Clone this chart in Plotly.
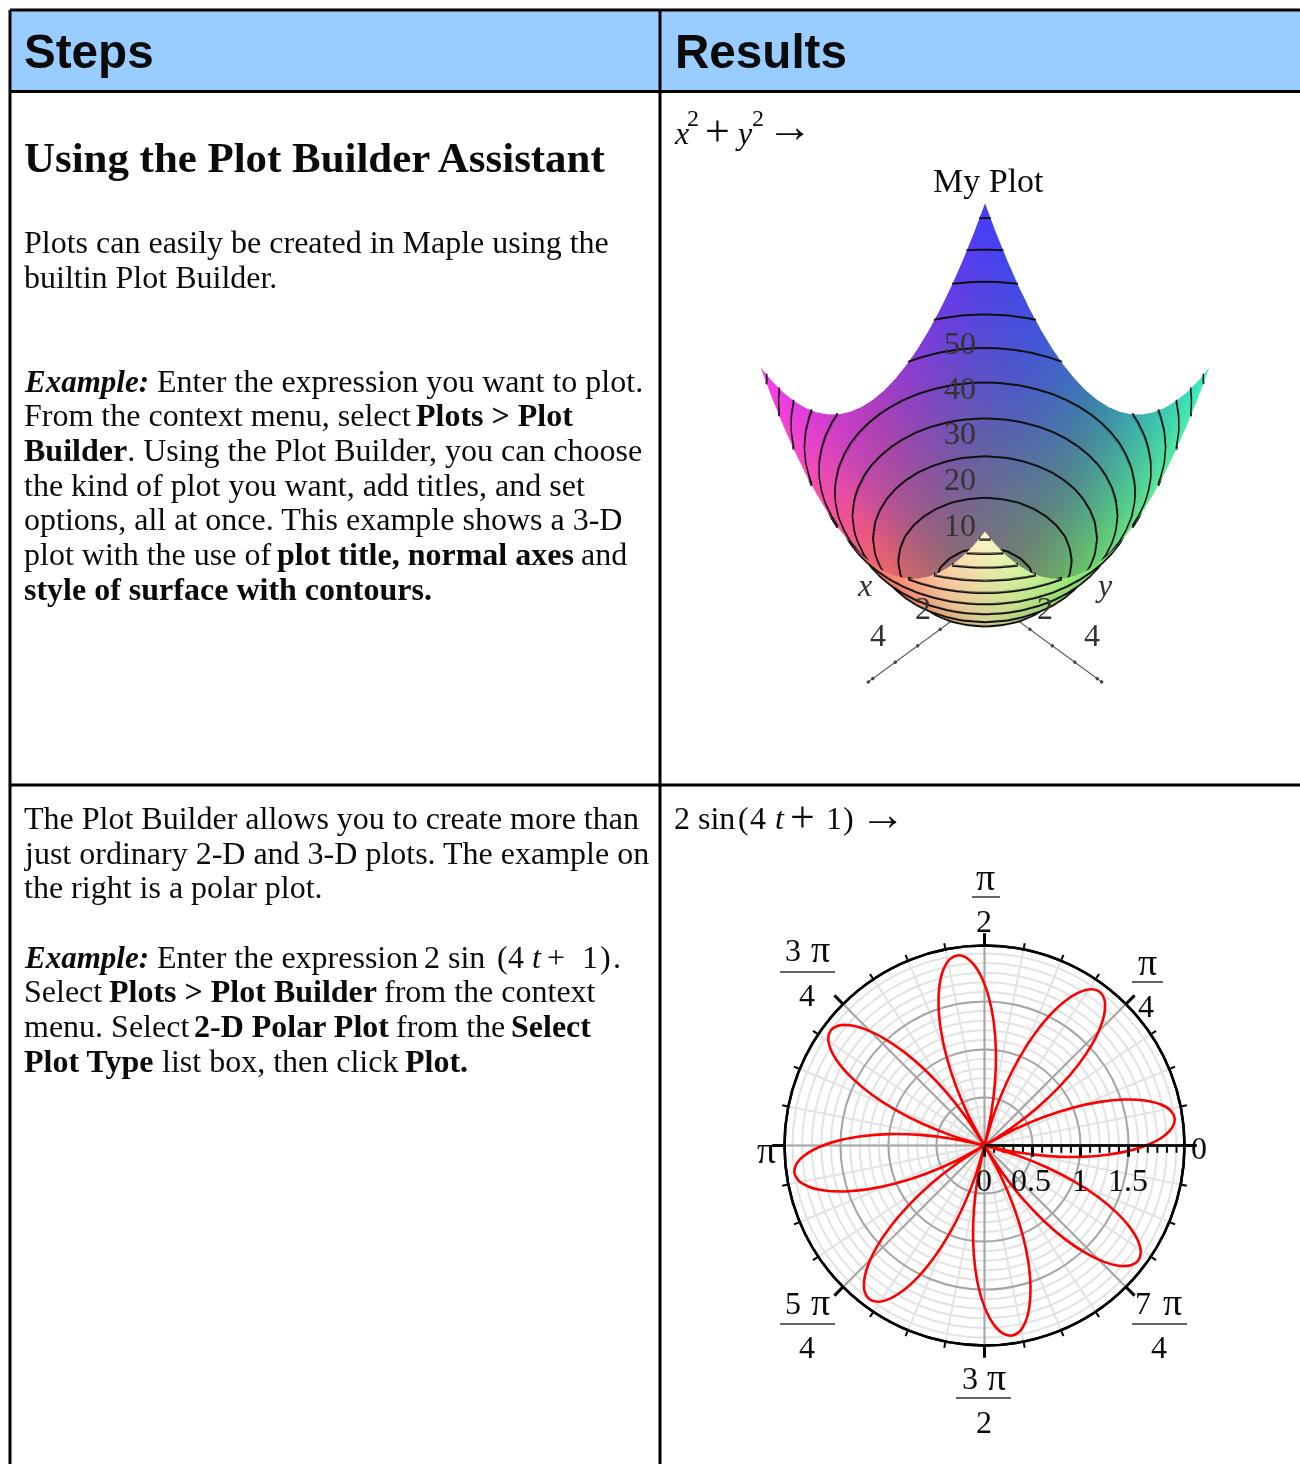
import numpy as np
import plotly.graph_objects as go

PAGE_W, PAGE_H = 1300, 1464
SERIF = "Liberation Serif"
SANS = "Liberation Sans"

def px(x):
    return x / PAGE_W

def py(y):
    return 1 - y / PAGE_H

# ---------- text of the table ----------
HEADERS = [("Steps", 24), ("Results", 675)]
HEADING = "Using the Plot Builder Assistant"
# y, then the pieces of the line with the x where each starts
BODY_LINES = [
    (242, [(24, "Plots can easily be created in Maple using the")]),
    (277, [(24, "builtin Plot Builder.")]),
    (381, [(24, "<b><i>Example:</i></b>"), (157, "Enter the expression you want to plot.")]),
    (415, [(24, "From the context menu, select"), (416, "<b>Plots &gt; Plot</b>")]),
    (450, [(24, "<b>Builder</b>. Using the Plot Builder, you can choose")]),
    (485, [(24, "the kind of plot you want, add titles, and set")]),
    (519, [(24, "options, all at once. This example shows a 3-D")]),
    (554, [(24, "plot with the use of"), (277, "<b>plot title, normal axes</b>"), (581, "and")]),
    (589, [(24, "<b>style of surface with contours.</b>")]),
    (818, [(24, "The Plot Builder allows you to create more than")]),
    (853, [(24, "just ordinary 2-D and 3-D plots. The example on")]),
    (887, [(24, "the right is a polar plot.")]),
    (957, [(24, "<b><i>Example:</i></b>"), (157, "Enter the expression"), (424, "2 sin"), (497, "("), (508, "4"),
           (532, "<i>t</i>"), (547, "+"), (582, "1"), (600, ")"), (613, ".")]),
    (991, [(24, "Select"), (109, "<b>Plots &gt; Plot Builder</b>"), (384, "from the context")]),
    (1026, [(24, "menu. Select"), (194, "<b>2-D Polar Plot</b>"), (396, "from the"), (511, "<b>Select</b>")]),
    (1061, [(24, "<b>Plot Type</b>"), (162, "list box, then click"), (405, "<b>Plot.</b>")]),
]
# pieces of the two result formulas: text, x, y, size
FORMULA_PIECES = [
    ("<i>x</i>", 674, 133, 32), ("2", 687, 118, 24), ("+", 705, 132, 44), ("<i>y</i>", 735, 133, 32),
    ("2", 752, 118, 24), ("\u2192", 767, 127, 46),
    ("2 sin", 674, 818, 32), ("(", 738, 818, 32), ("4", 750, 818, 32), ("<i>t</i>", 775, 818, 32),
    ("+", 790, 817, 44), ("1", 826, 818, 32), (")", 843, 818, 32), ("\u2192", 860, 814, 46),
]

# ---------- 3-D surface: one quadrant of z, mirrored about both axes ----------
GRID = [0, 0.5, 1, 1.5, 2, 2.5, 3, 3.5, 4, 4.5, 5]
Z_QUADRANT = [
    [0, .25, 1, 2.25, 4, 6.25, 9, 12.25, 16, 20.25, 25],
    [.25, .5, 1.25, 2.5, 4.25, 6.5, 9.25, 12.5, 16.25, 20.5, 25.25],
    [1, 1.25, 2, 3.25, 5, 7.25, 10, 13.25, 17, 21.25, 26],
    [2.25, 2.5, 3.25, 4.5, 6.25, 8.5, 11.25, 14.5, 18.25, 22.5, 27.25],
    [4, 4.25, 5, 6.25, 8, 10.25, 13, 16.25, 20, 24.25, 29],
    [6.25, 6.5, 7.25, 8.5, 10.25, 12.5, 15.25, 18.5, 22.25, 26.5, 31.25],
    [9, 9.25, 10, 11.25, 13, 15.25, 18, 21.25, 25, 29.25, 34],
    [12.25, 12.5, 13.25, 14.5, 16.25, 18.5, 21.25, 24.5, 28.25, 32.5, 37.25],
    [16, 16.25, 17, 18.25, 20, 22.25, 25, 28.25, 32, 36.25, 41],
    [20.25, 20.5, 21.25, 22.5, 24.25, 26.5, 29.25, 32.5, 36.25, 40.5, 45.25],
    [25, 25.25, 26, 27.25, 29, 31.25, 34, 37.25, 41, 45.25, 50],
]
CONTOUR_LEVELS = [2.5, 7.5, 12.5, 17.5, 22.5, 27.5, 32.5, 37.5, 42.5, 47.5]
# colours at x = -5, -2.5, 0, 2.5, 5 (rows) and y = -5, -2.5, 0, 2.5, 5 (columns)
SURFACE_COLOURS = [
    [(70, 60, 250), (65, 85, 220), (60, 130, 170), (60, 190, 175), (60, 240, 190)],
    [(120, 60, 220), (100, 100, 160), (100, 135, 120), (95, 195, 115), (100, 235, 150)],
    [(175, 60, 190), (150, 95, 130), (135, 125, 95), (120, 175, 85), (130, 230, 110)],
    [(215, 60, 215), (235, 90, 120), (205, 125, 80), (215, 210, 150), (190, 240, 140)],
    [(250, 60, 240), (250, 80, 170), (250, 110, 100), (250, 185, 150), (255, 250, 200)],
]
AXIS_TICKS_3D = [0, 1, 2, 3, 4, 5, 5.2]
Z_TICK_LABELS = [(50, 343), (40, 388), (30, 433), (20, 479), (10, 525)]
AXIS_3D_LABELS = [("<i>x</i>", 864, 585), ("<i>y</i>", 1104, 585), ("4", 878, 635), ("4", 1092, 635),
                  ("2", 923, 608), ("2", 1045, 608)]

grid = np.array(GRID)
axis = np.concatenate([-grid[:0:-1], grid])
zq = np.array(Z_QUADRANT)
z = np.block([[zq[:0:-1, :0:-1], zq[:0:-1, :]], [zq[:, :0:-1], zq]])
X, Y = np.meshgrid(axis, axis, indexing="ij")
pal = np.array(SURFACE_COLOURS, dtype=float)

def colour_at(x, y):
    u, v = (x + 5) / 2.5, (y + 5) / 2.5
    i, j = min(int(u), 3), min(int(v), 3)
    a, b = u - i, v - j
    c = (pal[i, j] * (1 - a) * (1 - b) + pal[i + 1, j] * a * (1 - b)
         + pal[i, j + 1] * (1 - a) * b + pal[i + 1, j + 1] * a * b)
    return "rgb(%d,%d,%d)" % tuple(c)

n = len(axis)
I, J, K = [], [], []
for a in range(n - 1):
    for b in range(n - 1):
        p = a * n + b
        I += [p, p]
        J += [p + 1, p + n + 1]
        K += [p + n + 1, p + n]

cx, cy, cl = [], [], []
for level in CONTOUR_LEVELS:
    for a in range(n - 1):
        for b in range(n - 1):
            corners = [(a, b), (a + 1, b), (a + 1, b + 1), (a, b + 1)]
            hits = []
            for e in range(4):
                p, q = corners[e], corners[(e + 1) % 4]
                zp, zq_ = z[p], z[q]
                if (zp < level) != (zq_ < level):
                    s = (level - zp) / (zq_ - zp)
                    hits.append((X[p] + s * (X[q] - X[p]), Y[p] + s * (Y[q] - Y[p])))
            for h in range(0, len(hits) - 1, 2):
                cx += [hits[h][0], hits[h + 1][0], None]
                cy += [hits[h][1], hits[h + 1][1], None]
                cl += [level, level, None]

fig = go.Figure()
fig.add_trace(go.Mesh3d(
    x=X.ravel(), y=Y.ravel(), z=z.ravel(), i=I, j=J, k=K,
    vertexcolor=[colour_at(a, b) for a, b in zip(X.ravel(), Y.ravel())],
    lighting=dict(ambient=1, diffuse=0, specular=0, roughness=1, fresnel=0),
    flatshading=False, hoverinfo="skip", showscale=False, scene="scene"))
# one copy just above the surface shows inside the bowl, one just below shows on its outer wall
for lift in (0.2, -0.2):
    fig.add_trace(go.Scatter3d(x=cx, y=cy, z=[None if v is None else v + lift for v in cl], mode="lines",
                               line=dict(color="#101010", width=4),
                               hoverinfo="skip", showlegend=False, scene="scene"))
zeros = [0] * len(AXIS_TICKS_3D)
for xs, ys in ((AXIS_TICKS_3D, zeros), (zeros, AXIS_TICKS_3D)):
    fig.add_trace(go.Scatter3d(x=xs, y=ys, z=zeros, mode="lines+markers",
                               line=dict(color="#444444", width=2),
                               marker=dict(size=2, color="#444444"),
                               hoverinfo="skip", showlegend=False, scene="scene"))

# ---------- polar plot ----------
PETAL_OFFSET = [-22.5, -20, -17.5, -15, -12.5, -10, -7.5, -5, -2.5, 0,
                2.5, 5, 7.5, 10, 12.5, 15, 17.5, 20, 22.5]
PETAL_R = [0, .347, .684, 1.0, 1.286, 1.532, 1.732, 1.879, 1.970, 2.0,
           1.970, 1.879, 1.732, 1.532, 1.286, 1.0, .684, .347, 0]
PETAL_TIPS = [8.2, 53.2, 98.2, 143.2, 188.2, 233.2, 278.2, 323.2]
RADIAL_TICKS = [0, 0.5, 1, 1.5]
# tick label, x, y
RADIAL_TICK_LABELS = [("0", 984, 1180), ("0.5", 1031, 1180), ("1", 1080, 1180), ("1.5", 1128, 1180)]

theta = [tip + o for tip in PETAL_TIPS for o in PETAL_OFFSET]
radius = PETAL_R * len(PETAL_TIPS)

fig.add_trace(go.Scatterpolar(r=[0], theta=[0], mode="lines", subplot="polar",
                              hoverinfo="skip", showlegend=False))
fig.add_trace(go.Scatterpolar(r=radius, theta=theta, mode="lines", subplot="polar2",
                              line=dict(color="#ff0000", width=2.6, shape="spline", smoothing=0.8),
                              hoverinfo="skip", showlegend=False))

pdom = dict(x=[px(784.5), px(1184.5)], y=[py(1345.5), py(945.5)])
R_MAX = 2.083
fig.update_layout(
    width=PAGE_W, height=PAGE_H, margin=dict(l=0, r=0, t=0, b=0),
    paper_bgcolor="white", plot_bgcolor="white", showlegend=False,
    scene=dict(
        domain=dict(x=[px(685), px(1285)], y=[py(782), py(182)]),
        xaxis=dict(visible=False, range=[-5.2, 5.2]),
        yaxis=dict(visible=False, range=[-5.2, 5.2]),
        zaxis=dict(visible=False, range=[0, 50]),
        aspectmode="manual", aspectratio=dict(x=1.1, y=1.1, z=1.12),
        bgcolor="rgba(0,0,0,0)",
        camera=dict(projection=dict(type="orthographic"),
                    eye=dict(x=1.1, y=1.1, z=1.67), up=dict(x=0, y=0, z=1),
                    center=dict(x=0, y=0, z=0)),
    ),
    polar=dict(
        domain=pdom, bgcolor="white",
        radialaxis=dict(range=[0, R_MAX], dtick=0.1, tick0=0, angle=0, side="clockwise",
                        showticklabels=False, ticks="outside", ticklen=6, tickwidth=2, tickcolor="black",
                        showline=True, linecolor="black", linewidth=2.5,
                        gridcolor="#e3e3e3", gridwidth=2.2),
        angularaxis=dict(dtick=11.25, direction="counterclockwise", rotation=0, showticklabels=False,
                         ticks="outside", ticklen=5, tickwidth=2, tickcolor="black",
                         showline=True, linecolor="black", linewidth=2.5,
                         gridcolor="#e3e3e3", gridwidth=2.2),
    ),
    polar2=dict(
        domain=pdom, bgcolor="rgba(0,0,0,0)",
        radialaxis=dict(range=[0, R_MAX], tickmode="array", tickvals=RADIAL_TICKS,
                        angle=0, side="clockwise", ticks="outside", ticklen=10, tickwidth=2.5, tickcolor="black",
                        showticklabels=False,
                        showline=True, linecolor="black", linewidth=2.5,
                        gridcolor="#a6a6a6", gridwidth=2.2),
        angularaxis=dict(dtick=45, direction="counterclockwise", rotation=0, showticklabels=False,
                         ticks="outside", ticklen=11, tickwidth=2.5, tickcolor="black",
                         showline=True, linecolor="black", linewidth=2.5,
                         gridcolor="#a6a6a6", gridwidth=2.2),
    ),
)

# ---------- table ----------
INK = "#0b0b0b"
shapes = [dict(type="rect", xref="paper", yref="paper", x0=px(10), x1=1, y0=py(91), y1=py(10),
               fillcolor="#99ccff", line=dict(width=0), layer="below")]
TABLE_H = [10, 91.5, 785]
TABLE_V = [10, 660]
for y in TABLE_H:
    shapes.append(dict(type="line", xref="paper", yref="paper", x0=px(10), x1=1, y0=py(y), y1=py(y),
                       line=dict(color="black", width=3)))
for x in TABLE_V:
    shapes.append(dict(type="line", xref="paper", yref="paper", x0=px(x), x1=px(x), y0=py(10), y1=0,
                       line=dict(color="black", width=3)))

# fraction bars of the angular labels: x0, x1, y
FRACTION_BARS = [(972, 1000, 897), (780, 835, 972), (1132, 1163, 982),
                 (780, 835, 1324), (1132, 1187, 1324), (956, 1011, 1398)]
for a, b, y in FRACTION_BARS:
    shapes.append(dict(type="line", xref="paper", yref="paper", x0=px(a), x1=px(b), y0=py(y), y1=py(y),
                       line=dict(color="#333333", width=1.5)))
fig.update_layout(shapes=shapes)

def note(text, x, y, size=32, family=SERIF, anchor="left", color=INK):
    fig.add_annotation(text=text, xref="paper", yref="paper", x=px(x), y=py(y), showarrow=False,
                       xanchor=anchor, yanchor="middle", align=anchor,
                       font=dict(family=family, size=size, color=color),
                       borderpad=0, borderwidth=0)

for text, x in HEADERS:
    note("<b>%s</b>" % text, x, 51, size=47.6, family=SANS)
note("<b>%s</b>" % HEADING, 24, 158, size=42.9)
for y, pieces in BODY_LINES:
    for x, piece in pieces:
        note(piece, x, y, size=31 if "Example" in piece else 32)

for text, x, y, size in FORMULA_PIECES:
    note(text, x, y, size=size)
note("My Plot", 988, 181, size=34, anchor="center")
for value, y in Z_TICK_LABELS:
    note(str(value), 960, y, anchor="center", color="#333333")
for text, x, y in AXIS_3D_LABELS:
    note(text, x, y, anchor="center", color="#333333")
for text, x, y in RADIAL_TICK_LABELS:
    note(text, x, y, anchor="center")

# angular labels: text, x, y, size
ANGULAR_LABELS = [("\u03c0", 985, 877, 38), ("2", 984, 921, 32),
                  ("3", 793, 950, 32), ("\u03c0", 820, 949, 38), ("4", 807, 995, 32),
                  ("\u03c0", 1147, 962, 38), ("4", 1146, 1006, 32),
                  ("\u03c0", 766, 1150, 38), ("0", 1199, 1148, 32),
                  ("5", 793, 1303, 32), ("\u03c0", 820, 1302, 38), ("4", 807, 1347, 32),
                  ("7", 1143, 1303, 32), ("\u03c0", 1172, 1302, 38), ("4", 1159, 1347, 32),
                  ("3", 970, 1378, 32), ("\u03c0", 996, 1377, 38), ("2", 984, 1422, 32)]
for text, x, y, size in ANGULAR_LABELS:
    note(text, x, y, size=size, anchor="center")

fig.write_html("out.html", config={"displayModeBar": False},
               post_script="document.documentElement.style.overflow='hidden';document.body.style.margin='0';")
